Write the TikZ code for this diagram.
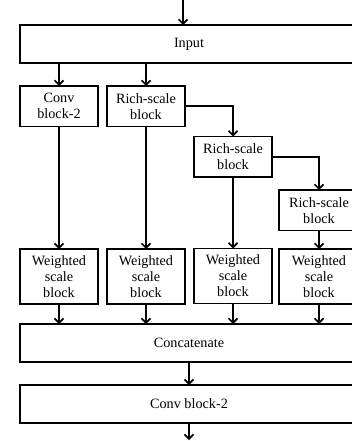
\documentclass[tikz,border=0pt]{standalone}
\usepackage{fontspec}
\setmainfont{Liberation Serif}
\usetikzlibrary{positioning,arrows.meta}
\tikzstyle{bbox}=[rectangle, draw=black, line width=1.7pt, outer sep=0pt,
                  minimum width=338pt, minimum height=38pt, inner sep=2pt,
                  text centered, font=\fontsize{14.2pt}{16pt}\selectfont]
\tikzstyle{sbox}=[rectangle, draw=black, line width=1.7pt, outer sep=0pt,
 minimum width=78pt, minimum height=40.5pt, inner sep=2pt, align=center,
 font=\fontsize{14.2pt}{16pt}\selectfont]
\tikzstyle{wbox}=[sbox, minimum height=55pt]
\tikzstyle{pline}=[-{Straight Barb[length=4.5pt,width=9pt]}, line width=1.7pt]

\begin{document}
\begin{tikzpicture}[x=1pt, y=-1pt, node distance=0mm]
\useasboundingbox (0,0) rectangle (352,441);
\clip (0,0) rectangle (352,441);


\node (INP) [bbox] at (189,44) {Input};
\coordinate [above left=25pt and 6pt of INP.north] (IN);
 \draw[pline] (IN) -- (IN |- INP.north);
\node (CONVA) [sbox, below right=23pt and 0pt of INP.south west] {Conv\\block-2};
 \draw[pline] (CONVA |- INP.south) -- (CONVA);
\node (RSB1) [sbox, right=9pt of CONVA] {Rich-scale\\block};
 \draw[pline] (RSB1 |- INP.south) -- (RSB1);
\node (RSB2) [sbox, below right=10pt and 9pt of RSB1.south east] {Rich-scale\\block};
 \draw[pline] (RSB1.east) -| (RSB2.north);
\node (RSB3) [sbox, minimum width=80pt, below right=13pt and 7pt of RSB2.south east] {Rich-scale\\block};
 \draw[pline] (RSB2.east) -| (RSB3.north);

\node (WSB1) [wbox, below=122.5pt of CONVA] {Weighted\\scale\\block};
 \draw[pline] (CONVA) -- (WSB1);
\node (WSB2) [wbox, below=122.5pt of RSB1] {Weighted\\scale\\block};
 \draw[pline] (RSB1) -- (WSB2);
\node (WSB3) [wbox, below=71.5pt of RSB2] {Weighted\\scale\\block};
 \draw[pline] (RSB2) -- (WSB3);
\node (WSB4) [wbox, minimum width=80pt, below=18.5pt of RSB3] {Weighted\\scale\\block};
 \draw[pline] (RSB3) -- (WSB4);

\node (CONCAT) [bbox, below right=20pt and 0pt of WSB1.south west] {Concatenate};
 \foreach \w in {WSB1,WSB2,WSB3,WSB4}
   \draw[pline] (\w) -- (\w |- CONCAT.north);
\node (CONVB) [bbox, below=23pt of CONCAT] {Conv block-2};
 \draw[pline] (CONCAT) -- (CONVB);
\coordinate [below=17pt of CONVB] (OUT);
 \draw[pline] (CONVB) -- (OUT);

\end{tikzpicture}
\end{document}
